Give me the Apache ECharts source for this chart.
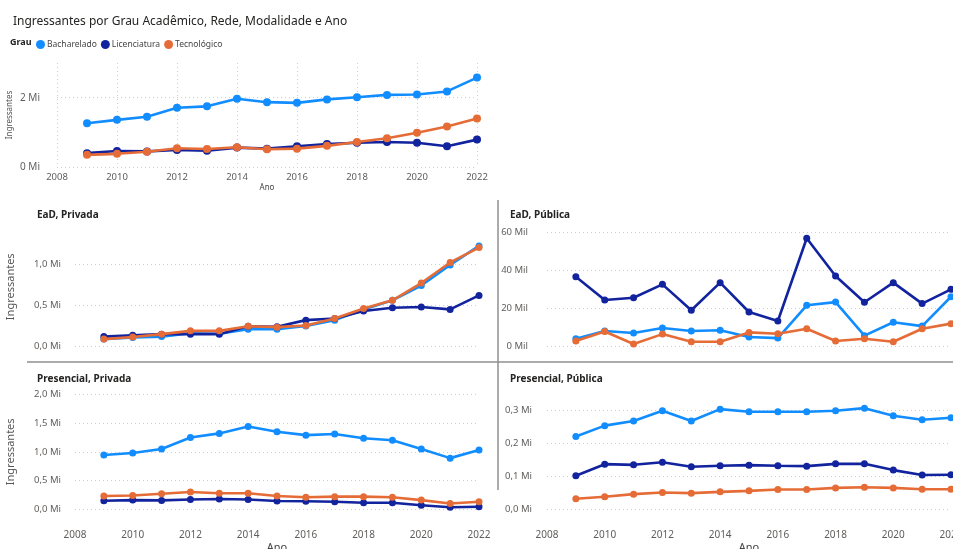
<!DOCTYPE html>
<html>
<head>
<meta charset="utf-8">
<script src="https://cdn.jsdelivr.net/npm/echarts@6/dist/echarts.min.js"></script>
<style>
  html, body { margin: 0; padding: 0; background: #fff; }
  #echart { width: 953px; height: 549px; }
</style>
</head>
<body>
<div id="echart"></div>
<script>
// anos
var years = [2009, 2010, 2011, 2012, 2013, 2014, 2015, 2016, 2017, 2018, 2019, 2020, 2021, 2022];

// total (Mi)
var totalBach = [1.26, 1.36, 1.45, 1.71, 1.75, 1.97, 1.87, 1.85, 1.95, 2.01, 2.08, 2.09, 2.18, 2.58];
var totalLic  = [0.40, 0.46, 0.45, 0.49, 0.47, 0.56, 0.53, 0.60, 0.66, 0.70, 0.72, 0.70, 0.60, 0.79];
var totalTec  = [0.35, 0.38, 0.44, 0.54, 0.52, 0.57, 0.51, 0.53, 0.61, 0.72, 0.83, 0.99, 1.17, 1.40];

// EaD, Privada (Mi)
var eadPrivBach = [0.09, 0.11, 0.12, 0.16, 0.155, 0.21, 0.21, 0.25, 0.32, 0.45, 0.56, 0.74, 0.99, 1.22];
var eadPrivLic  = [0.12, 0.135, 0.15, 0.15, 0.15, 0.245, 0.24, 0.32, 0.34, 0.43, 0.47, 0.48, 0.45, 0.62];
var eadPrivTec  = [0.09, 0.115, 0.15, 0.19, 0.19, 0.245, 0.235, 0.255, 0.34, 0.46, 0.56, 0.77, 1.02, 1.20];

// EaD, Pública (Mil)
var eadPubBach = [4.2, 8.2, 7.2, 9.8, 8.2, 8.6, 5.1, 4.5, 21.7, 23.4, 5.8, 12.8, 10.8, 26.2];
var eadPubLic  = [36.7, 24.5, 25.7, 32.7, 19.1, 33.6, 18.2, 13.5, 56.9, 37.1, 23.3, 33.6, 22.6, 30.1];
var eadPubTec  = [3.0, 8.0, 1.4, 6.6, 2.6, 2.6, 7.5, 6.8, 9.4, 3.0, 4.2, 2.6, 9.4, 12.1];

// Presencial, Privada (Mi)
var presPrivBach = [0.945, 0.98, 1.05, 1.25, 1.32, 1.44, 1.35, 1.29, 1.31, 1.235, 1.2, 1.05, 0.89, 1.03];
var presPrivLic  = [0.15, 0.16, 0.155, 0.17, 0.18, 0.17, 0.145, 0.14, 0.13, 0.115, 0.115, 0.07, 0.035, 0.045];
var presPrivTec  = [0.23, 0.24, 0.27, 0.30, 0.28, 0.28, 0.23, 0.21, 0.22, 0.22, 0.21, 0.16, 0.10, 0.13];

// Presencial, Pública (Mi)
var presPubBach = [0.221, 0.254, 0.268, 0.299, 0.268, 0.304, 0.296, 0.296, 0.296, 0.299, 0.307, 0.284, 0.272, 0.278];
var presPubLic  = [0.102, 0.137, 0.135, 0.143, 0.129, 0.132, 0.134, 0.132, 0.131, 0.138, 0.138, 0.119, 0.104, 0.105];
var presPubTec  = [0.032, 0.038, 0.046, 0.051, 0.049, 0.053, 0.056, 0.060, 0.060, 0.065, 0.067, 0.065, 0.061, 0.061];

var names = ['Bacharelado', 'Licenciatura', 'Tecnológico'];
var colors = ['#118DFF', '#12239E', '#E66C37'];

try {
    var chart_el = document.getElementById('echart');
    var chart = echarts.init(chart_el);
    var font = 'Noto Sans';
    var labelColor = '#605E5C';

    function pairs(arr) {
        return years.map(function (y, i) { return [y, arr[i]]; });
    }
    function onTick(v, step) {
        var k = v / step;
        return Math.abs(k - Math.round(k)) < 1e-6;
    }
    function miFmt(step) {
        return function (v) { return onTick(v, step) ? v.toFixed(1).replace('.', ',') + ' Mi' : ''; };
    }

    var panels = [
        { grid: { left: 57, top: 63, width: 420, height: 104 }, data: [totalBach, totalLic, totalTec],
          y: { max: 3, interval: 2, margin: 17, size: 10,
               fmt: function (v) { return onTick(v, 2) ? v + ' Mi' : ''; }, name: 'Ingressantes', nameGap: 43, nameSize: 8 },
          x: { labels: true, margin: 5, size: 9.5, name: 'Ano', nameGap: 17, nameSize: 8, vgrid: true }, sym: 8 },
        { grid: { left: 75, top: 227, width: 404, height: 119.5 }, data: [eadPrivBach, eadPrivLic, eadPrivTec],
          y: { max: 1.45, interval: 0.5, margin: 14, size: 9.5, fmt: miFmt(0.5), name: 'Ingressantes', nameGap: 59, nameSize: 11 },
          x: { labels: false }, sym: 7 },
        { grid: { left: 547, top: 232.3, width: 404, height: 114.4 }, data: [eadPubBach, eadPubLic, eadPubTec],
          y: { max: 60, interval: 20, margin: 19, size: 9.5, fmt: function (v) { return v + ' Mil'; } },
          x: { labels: false }, sym: 7 },
        { grid: { left: 75, top: 394.3, width: 404, height: 115 }, data: [presPrivBach, presPrivLic, presPrivTec],
          y: { max: 2.0, interval: 0.5, margin: 14, size: 9.5, fmt: miFmt(0.5), name: 'Ingressantes', nameGap: 59, nameSize: 11 },
          x: { labels: true, margin: 21, size: 10, name: 'Ano', nameGap: 33, nameSize: 11 }, sym: 7 },
        { grid: { left: 547, top: 394, width: 404, height: 115.3 }, data: [presPubBach, presPubLic, presPubTec],
          y: { max: 0.35, interval: 0.1, margin: 15, size: 9.5, fmt: miFmt(0.1) },
          x: { labels: true, margin: 21, size: 10, name: 'Ano', nameGap: 33, nameSize: 11 }, sym: 7 }
    ];

    var grids = [], xAxes = [], yAxes = [], series = [];
    panels.forEach(function (p, gi) {
        p.grid.outerBoundsMode = 'none';
        p.grid.containLabel = false;
        grids.push(p.grid);
        xAxes.push({
            type: 'value', gridIndex: gi, min: 2008, max: 2022, interval: 2,
            axisLine: { show: false }, axisTick: { show: false },
            axisLabel: { show: p.x.labels, margin: p.x.margin || 8, color: labelColor, fontFamily: font,
                         fontSize: p.x.size || 10, formatter: function (v) { return String(v); } },
            splitLine: { show: !!p.x.vgrid, lineStyle: { type: [1, 3], color: '#cfcfcf' } },
            name: p.x.name || '', nameLocation: 'middle', nameGap: p.x.nameGap || 0,
            nameTextStyle: { color: '#444', fontFamily: font, fontSize: p.x.nameSize || 10 }
        });
        yAxes.push({
            type: 'value', gridIndex: gi, min: 0, max: p.y.max, interval: p.y.interval,
            axisLine: { show: false }, axisTick: { show: false },
            axisLabel: { color: labelColor, fontFamily: font, fontSize: p.y.size, margin: p.y.margin,
                         formatter: p.y.fmt },
            splitLine: { showMaxLine: onTick(p.y.max, p.y.interval), lineStyle: { type: [1, 3], color: '#cfcfcf' } },
            name: p.y.name || '', nameLocation: 'middle', nameRotate: 90, nameGap: p.y.nameGap || 0,
            nameTextStyle: { color: '#555', fontFamily: font, fontSize: p.y.nameSize || 10 }
        });
        p.data.forEach(function (arr, si) {
            series.push({
                name: names[si], type: 'line', xAxisIndex: gi, yAxisIndex: gi,
                data: pairs(arr), symbol: 'circle', symbolSize: p.sym,
                lineStyle: { width: 2.6, color: colors[si] },
                itemStyle: { color: colors[si] },
                z: si === 2 ? 3 : 2
            });
        });
    });

    option = {
        animation: false,
        backgroundColor: '#fff',
        color: colors,
        title: {
            text: 'Ingressantes por Grau Acadêmico, Rede, Modalidade e Ano',
            left: 8, top: 11,
            textStyle: { fontFamily: font, fontSize: 12, fontWeight: 'normal', color: '#252423' }
        },
        legend: {
            data: names, left: 31, top: 35, icon: 'circle', itemWidth: 9, itemHeight: 9, itemGap: 4,
            textStyle: { fontFamily: font, fontSize: 8.5, color: '#444', padding: [0, 0, 0, -3] }
        },
        grid: grids,
        xAxis: xAxes,
        yAxis: yAxes,
        series: series,
        graphic: [
            { type: 'text', left: 10, top: 38, style: { text: 'Grau', font: 'bold 9px "Noto Sans"', fill: '#252423' } },
            { type: 'text', left: 37, top: 210, style: { text: 'EaD, Privada', font: 'bold 10px "Noto Sans"', fill: '#252423' } },
            { type: 'text', left: 510, top: 210, style: { text: 'EaD, Pública', font: 'bold 10px "Noto Sans"', fill: '#252423' } },
            { type: 'text', left: 37, top: 374, style: { text: 'Presencial, Privada', font: 'bold 10px "Noto Sans"', fill: '#252423' } },
            { type: 'text', left: 510, top: 374, style: { text: 'Presencial, Pública', font: 'bold 10px "Noto Sans"', fill: '#252423' } },
            { type: 'line', shape: { x1: 27, y1: 362, x2: 953, y2: 362 }, style: { stroke: '#8f8f8f', lineWidth: 1.5 } },
            { type: 'line', shape: { x1: 498, y1: 200, x2: 498, y2: 490 }, style: { stroke: '#8f8f8f', lineWidth: 1.5 } }
        ]
    };
    chart.setOption(option);
} catch (error) {
    console.error(`Failed to draw chart`);
    console.error(error);
}
</script>
</body>
</html>
